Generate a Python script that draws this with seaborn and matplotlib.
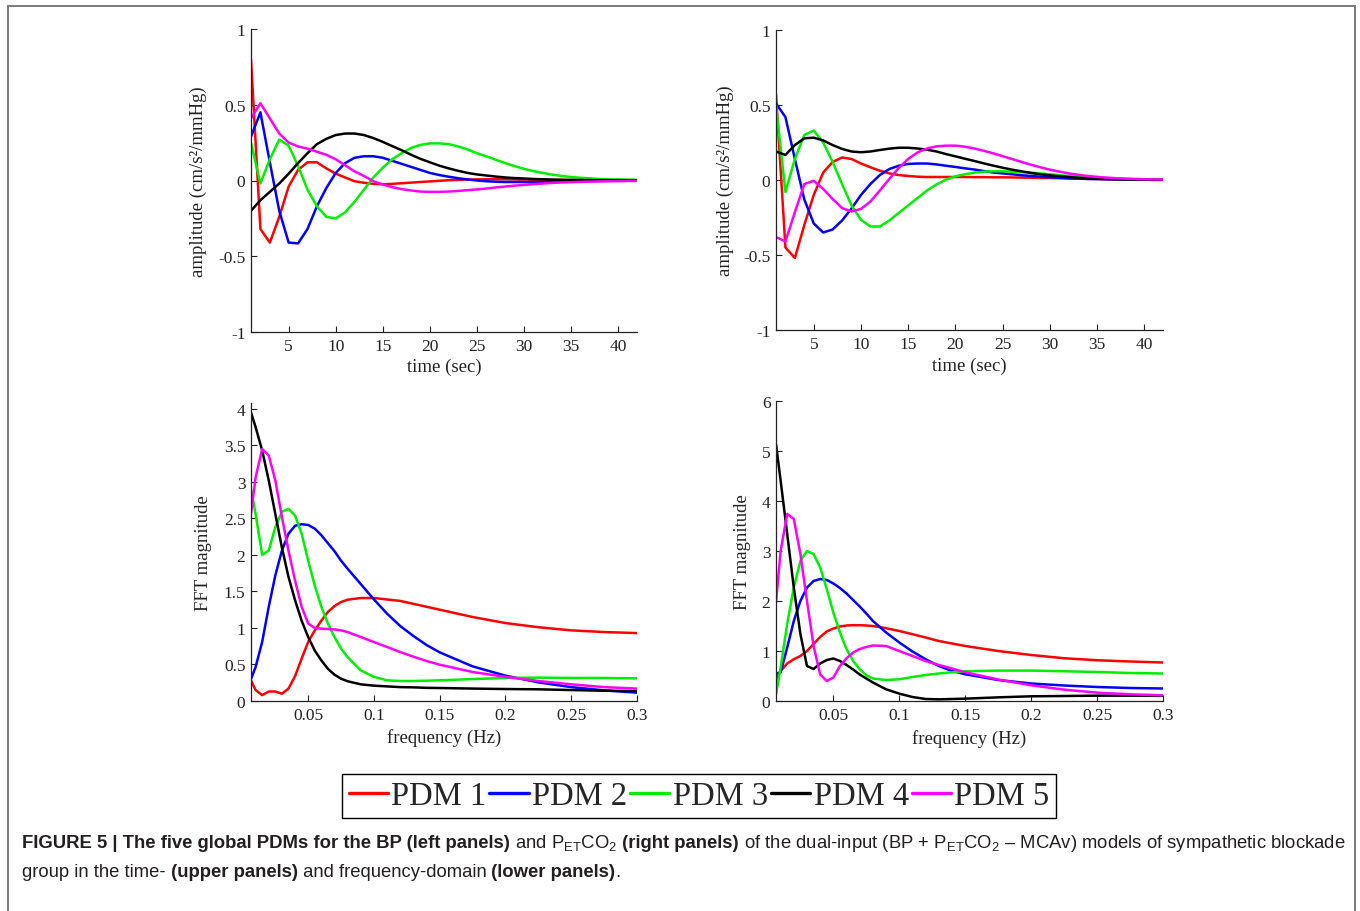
import numpy as np
import pandas as pd
import matplotlib
matplotlib.use('Agg')
import matplotlib.pyplot as plt
import seaborn as sns
from matplotlib.lines import Line2D
from matplotlib.patches import Rectangle
from matplotlib.ticker import FuncFormatter
from matplotlib import font_manager

# Nomes e cores dos PDMs
pdm_nomes = ['PDM 1', 'PDM 2', 'PDM 3', 'PDM 4', 'PDM 5']
pdm_cores = ['#ff0000', '#0000ff', '#00ee00', '#000000', '#ff00ff']

# Eixo do tempo (s) para os painéis superiores
tempo = list(range(1, 43))

# Painel superior esquerdo (BP)
bp_pdm1 = [0.80, -0.32, -0.41, -0.24, -0.04, 0.07, 0.12, 0.12, 0.08, 0.045, 0.02, -0.005, -0.015, -0.022,
           -0.025, -0.022, -0.018, -0.014, -0.01, -0.006, -0.002, 0.002, 0.004, 0.006, 0.007, 0.008, 0.008,
           0.008, 0.007, 0.006, 0.005, 0.004, 0.003, 0.003, 0.002, 0.002, 0.001, 0.001, 0.001, 0.0, 0.0, 0.0]
bp_pdm2 = [0.29, 0.45, 0.12, -0.2, -0.41, -0.415, -0.32, -0.17, -0.05, 0.05, 0.115, 0.15, 0.16, 0.16, 0.15,
           0.13, 0.11, 0.09, 0.07, 0.05, 0.036, 0.025, 0.015, 0.007, 0.0, -0.005, -0.008, -0.01, -0.01, -0.01,
           -0.01, -0.009, -0.008, -0.007, -0.006, -0.005, -0.004, -0.003, -0.002, -0.002, -0.001, -0.001]
bp_pdm3 = [0.25, -0.02, 0.14, 0.27, 0.23, 0.095, -0.06, -0.17, -0.24, -0.25, -0.21, -0.14, -0.06, 0.02, 0.085,
           0.14, 0.18, 0.215, 0.235, 0.245, 0.245, 0.24, 0.225, 0.205, 0.18, 0.16, 0.137, 0.115, 0.095, 0.077,
           0.062, 0.05, 0.039, 0.03, 0.023, 0.018, 0.014, 0.01, 0.008, 0.007, 0.006, 0.005]
bp_pdm4 = [-0.2, -0.13, -0.075, -0.02, 0.045, 0.115, 0.18, 0.24, 0.275, 0.3, 0.31, 0.31, 0.3, 0.28, 0.255,
           0.227, 0.2, 0.17, 0.143, 0.12, 0.098, 0.08, 0.064, 0.05, 0.04, 0.033, 0.026, 0.02, 0.016, 0.013,
           0.01, 0.008, 0.006, 0.005, 0.004, 0.003, 0.002, 0.002, 0.001, 0.001, 0.0, 0.0]
bp_pdm5 = [0.41, 0.51, 0.41, 0.31, 0.25, 0.225, 0.21, 0.19, 0.17, 0.14, 0.1, 0.06, 0.03, -0.005, -0.026,
           -0.044, -0.057, -0.066, -0.073, -0.075, -0.075, -0.073, -0.069, -0.064, -0.059, -0.053, -0.046,
           -0.04, -0.034, -0.029, -0.024, -0.02, -0.016, -0.013, -0.011, -0.009, -0.007, -0.006, -0.005,
           -0.004, -0.003, -0.003]

# Painel superior direito (PETCO2)
co2_pdm1 = [0.57, -0.45, -0.52, -0.3, -0.1, 0.05, 0.12, 0.15, 0.14, 0.11, 0.085, 0.062, 0.044, 0.033, 0.027,
            0.022, 0.02, 0.02, 0.02, 0.02, 0.02, 0.019, 0.019, 0.018, 0.018, 0.017, 0.016, 0.015, 0.014,
            0.013, 0.012, 0.01, 0.009, 0.008, 0.007, 0.006, 0.005, 0.004, 0.003, 0.002, 0.002, 0.002]
co2_pdm2 = [0.51, 0.42, 0.14, -0.13, -0.29, -0.35, -0.33, -0.27, -0.19, -0.1, -0.027, 0.033, 0.073, 0.095,
            0.107, 0.11, 0.11, 0.104, 0.095, 0.087, 0.078, 0.07, 0.06, 0.05, 0.044, 0.038, 0.032, 0.027,
            0.022, 0.018, 0.015, 0.012, 0.009, 0.007, 0.006, 0.005, 0.004, 0.003, 0.002, 0.002, 0.001, 0.001]
co2_pdm3 = [0.5, -0.08, 0.14, 0.3, 0.33, 0.25, 0.12, -0.027, -0.17, -0.265, -0.31, -0.31, -0.27, -0.22, -0.17,
            -0.12, -0.07, -0.03, 0.002, 0.024, 0.038, 0.049, 0.055, 0.058, 0.058, 0.055, 0.052, 0.049, 0.044,
            0.038, 0.032, 0.027, 0.022, 0.018, 0.015, 0.012, 0.01, 0.008, 0.006, 0.005, 0.004, 0.003]
co2_pdm4 = [0.19, 0.167, 0.233, 0.278, 0.282, 0.264, 0.233, 0.207, 0.19, 0.185, 0.19, 0.2, 0.209, 0.215, 0.215,
            0.21, 0.202, 0.19, 0.173, 0.158, 0.142, 0.127, 0.111, 0.096, 0.082, 0.069, 0.058, 0.047, 0.038,
            0.031, 0.025, 0.02, 0.015, 0.011, 0.009, 0.007, 0.005, 0.004, 0.003, 0.002, 0.001, 0.001]
co2_pdm5 = [-0.38, -0.41, -0.215, -0.027, -0.005, -0.06, -0.127, -0.187, -0.21, -0.193, -0.144, -0.07, 0.007,
            0.08, 0.14, 0.184, 0.21, 0.224, 0.229, 0.229, 0.222, 0.21, 0.195, 0.178, 0.159, 0.14, 0.121, 0.102,
            0.085, 0.069, 0.056, 0.044, 0.035, 0.027, 0.021, 0.016, 0.012, 0.009, 0.007, 0.005, 0.004, 0.003]

# Eixo da frequência (Hz) para os painéis inferiores
freq = [0.0065, 0.01, 0.015, 0.02, 0.025, 0.03, 0.035, 0.04, 0.045, 0.05, 0.055, 0.06, 0.065, 0.07, 0.075,
        0.08, 0.09, 0.1, 0.11, 0.12, 0.13, 0.14, 0.15, 0.175, 0.2, 0.225, 0.25, 0.275, 0.3]

# Painel inferior esquerdo (BP)
fft_bp_pdm1 = [0.28, 0.15, 0.08, 0.13, 0.13, 0.1, 0.17, 0.34, 0.58, 0.81, 0.967, 1.1, 1.22, 1.3, 1.355, 1.387,
               1.41, 1.41, 1.39, 1.37, 1.33, 1.29, 1.25, 1.15, 1.067, 1.01, 0.967, 0.944, 0.93]
fft_bp_pdm2 = [0.3, 0.465, 0.81, 1.29, 1.72, 2.06, 2.29, 2.4, 2.42, 2.41, 2.36, 2.27, 2.16, 2.05, 1.92, 1.81,
               1.6, 1.39, 1.195, 1.026, 0.89, 0.766, 0.666, 0.474, 0.347, 0.255, 0.19, 0.146, 0.114]
fft_bp_pdm3 = [2.9, 2.56, 2.0, 2.06, 2.38, 2.59, 2.63, 2.54, 2.29, 1.92, 1.58, 1.29, 1.06, 0.876, 0.716, 0.6,
               0.42, 0.33, 0.283, 0.274, 0.274, 0.278, 0.283, 0.3, 0.315, 0.32, 0.315, 0.315, 0.31]
fft_bp_pdm4 = [3.95, 3.75, 3.43, 3.02, 2.56, 2.1, 1.7, 1.38, 1.1, 0.875, 0.69, 0.556, 0.44, 0.36, 0.305, 0.27,
               0.228, 0.21, 0.2, 0.19, 0.187, 0.18, 0.178, 0.17, 0.164, 0.16, 0.15, 0.14, 0.137]
fft_bp_pdm5 = [2.56, 3.06, 3.45, 3.36, 3.02, 2.52, 2.06, 1.65, 1.29, 1.06, 1.0, 0.99, 0.985, 0.98, 0.967, 0.944,
               0.876, 0.807, 0.74, 0.67, 0.607, 0.547, 0.497, 0.397, 0.33, 0.274, 0.228, 0.19, 0.17]

# Painel inferior direito (PETCO2)
fft_co2_pdm1 = [0.43, 0.6, 0.75, 0.835, 0.9, 1.0, 1.14, 1.28, 1.39, 1.45, 1.49, 1.51, 1.516, 1.516, 1.51, 1.5,
                1.456, 1.4, 1.336, 1.27, 1.2, 1.15, 1.1, 1.0, 0.92, 0.855, 0.815, 0.79, 0.77]
fft_co2_pdm2 = [0.55, 0.57, 1.07, 1.6, 2.0, 2.27, 2.4, 2.44, 2.42, 2.35, 2.26, 2.15, 2.02, 1.89, 1.75, 1.6,
                1.37, 1.17, 0.99, 0.835, 0.7, 0.6, 0.534, 0.42, 0.35, 0.31, 0.28, 0.26, 0.25]
fft_co2_pdm3 = [0.13, 0.67, 1.54, 2.27, 2.8, 3.0, 2.94, 2.67, 2.24, 1.77, 1.37, 1.035, 0.8, 0.635, 0.514, 0.45,
                0.42, 0.434, 0.48, 0.52, 0.55, 0.575, 0.595, 0.608, 0.608, 0.595, 0.58, 0.56, 0.55]
fft_co2_pdm4 = [5.14, 4.41, 3.34, 2.27, 1.34, 0.7, 0.64, 0.75, 0.82, 0.85, 0.8, 0.72, 0.63, 0.53, 0.45, 0.37,
                0.234, 0.147, 0.08, 0.04, 0.033, 0.04, 0.047, 0.073, 0.094, 0.1, 0.107, 0.107, 0.107]
fft_co2_pdm5 = [1.97, 3.0, 3.74, 3.64, 2.94, 2.0, 1.1, 0.53, 0.4, 0.47, 0.7, 0.855, 0.97, 1.04, 1.08, 1.11,
                1.1, 1.0, 0.9, 0.8, 0.72, 0.65, 0.575, 0.43, 0.314, 0.227, 0.167, 0.134, 0.114]

# Estilo (parecido com o MATLAB)
sns.set_style('ticks')
plt.rcParams['font.family'] = ['Liberation Serif', 'DejaVu Serif']
plt.rcParams['axes.unicode_minus'] = False
plt.rcParams['mathtext.fontset'] = 'custom'
plt.rcParams['mathtext.rm'] = 'Liberation Sans'
plt.rcParams['mathtext.it'] = 'Liberation Sans:italic'
plt.rcParams['mathtext.bf'] = 'Liberation Sans:bold'

W, H = 1360, 912
fig = plt.figure(figsize=(W / 100, H / 100), dpi=100)


def eixo(px_esq, px_topo, px_dir, px_base):
    # cria um eixo a partir de posições em pixels
    return fig.add_axes([px_esq / W, 1 - px_base / H, (px_dir - px_esq) / W, (px_base - px_topo) / H])


def painel(ax, x, series, xlabel, ylabel, xlim, ylim, xticks, yticks, ylab_x, xlab_y):
    df = pd.DataFrame({'x': np.tile(x, len(series)),
                       'y': np.concatenate(series),
                       'PDM': np.repeat(pdm_nomes, len(x))})
    sns.lineplot(data=df, x='x', y='y', hue='PDM', palette=dict(zip(pdm_nomes, pdm_cores)),
                 linewidth=1.8, legend=False, errorbar=None, ax=ax)
    ax.set_xlim(xlim)
    ax.set_ylim(ylim)
    ax.set_xticks(xticks)
    ax.set_yticks(yticks)
    fmt = FuncFormatter(lambda v, p: f'{v:g}')
    ax.xaxis.set_major_formatter(fmt)
    ax.yaxis.set_major_formatter(fmt)
    ax.tick_params(direction='in', length=4, width=0.8, labelsize=12.5, pad=4, colors='#222222')
    sns.despine(ax=ax)
    for s in ['left', 'bottom']:
        ax.spines[s].set_linewidth(0.9)
        ax.spines[s].set_color('#222222')
    ax.set_xlabel(xlabel, fontsize=13.5, color='#222222')
    ax.set_ylabel(ylabel, fontsize=13.5, color='#222222')
    ax.yaxis.set_label_coords(ylab_x, 0.5)
    ax.xaxis.set_label_coords(0.5, xlab_y)


amp_label = 'amplitude (cm/s²/mmHg)'
t_ticks = [5, 10, 15, 20, 25, 30, 35, 40]
f_ticks = [0.05, 0.1, 0.15, 0.2, 0.25, 0.3]

ax1 = eixo(251, 30, 637, 333)
painel(ax1, tempo, [bp_pdm1, bp_pdm2, bp_pdm3, bp_pdm4, bp_pdm5], 'time (sec)', amp_label,
       (1, 42), (-1, 1), t_ticks, [-1, -0.5, 0, 0.5, 1], -0.113, -0.085)

ax2 = eixo(776, 31, 1163, 331)
painel(ax2, tempo, [co2_pdm1, co2_pdm2, co2_pdm3, co2_pdm4, co2_pdm5], 'time (sec)', amp_label,
       (1, 42), (-1, 1), t_ticks, [-1, -0.5, 0, 0.5, 1], -0.108, -0.09)

ax3 = eixo(251, 404, 637, 702)
painel(ax3, freq, [fft_bp_pdm1, fft_bp_pdm2, fft_bp_pdm3, fft_bp_pdm4, fft_bp_pdm5], 'frequency (Hz)',
       'FFT magnitude', (0.0065, 0.3), (0, 4.08), f_ticks, [0, 0.5, 1, 1.5, 2, 2.5, 3, 3.5, 4], -0.1, -0.09)

ax4 = eixo(776, 402, 1163, 702)
painel(ax4, freq, [fft_co2_pdm1, fft_co2_pdm2, fft_co2_pdm3, fft_co2_pdm4, fft_co2_pdm5], 'frequency (Hz)',
       'FFT magnitude', (0.0065, 0.3), (0, 6), f_ticks, [0, 1, 2, 3, 4, 5, 6], -0.064, -0.095)

# Legenda comum
handles = [Line2D([], [], color=c, lw=2.4) for c in pdm_cores]
leg = fig.legend(handles, pdm_nomes, loc='center', bbox_to_anchor=(699 / W, 1 - 797 / H), ncol=5,
                 frameon=True, fancybox=False, edgecolor='black', framealpha=1, fontsize=23.5,
                 handlelength=1.2, handletextpad=0.1, columnspacing=0.1, borderpad=0.2, borderaxespad=0)
leg.get_frame().set_linewidth(1.0)

# Moldura cinza em volta da figura
fig.add_artist(Rectangle((7.5 / W, -0.05), (1355 - 7.5) / W, (H - 6.5) / H + 0.05, transform=fig.transFigure,
                         fill=False, edgecolor='#7a7a7a', lw=1.4, clip_on=False))

# Legenda da figura (texto com partes em negrito)
nomes_fontes = {f.name for f in font_manager.fontManager.ttflist}
fam_cap = ['Liberation Sans Narrow', 'Liberation Sans'] if 'Liberation Sans Narrow' in nomes_fontes \
    else ['Liberation Sans', 'DejaVu Sans']
co2 = r'P$_{\mathregular{ET}}$CO$_2$'
linha1 = [('FIGURE 5 | The five global PDMs for the BP (left panels)', 'bold'),
          (' and ' + co2, 'normal'),
          (' (right panels)', 'bold'),
          (' of the dual-input (BP + ' + co2 + ' – MCAv) models of sympathetic blockade', 'normal')]
linha2 = [('group in the time-', 'normal'),
          (' (upper panels)', 'bold'),
          (' and frequency-domain', 'normal'),
          (' (lower panels)', 'bold'),
          ('.', 'normal')]

fig.canvas.draw()
renderer = fig.canvas.get_renderer()


def escreve(pecas, x0, y0, tam):
    x = x0
    objs = []
    for txt, peso in pecas:
        t = fig.text(x / W, 1 - y0 / H, txt, fontsize=tam, fontweight=peso, family=fam_cap,
                     color='#231f20', ha='left', va='baseline')
        objs.append(t)
        x += t.get_window_extent(renderer).width
    return x - x0, objs


# ajusta o tamanho da fonte para a largura da primeira linha
largura, objs = escreve(linha1, 22, 848, 12)
for o in objs:
    o.remove()
tam = 12 * (1340 - 22) / largura
escreve(linha1, 22, 848, tam)
escreve(linha2, 22, 877, tam)

fig.savefig('out.png', dpi=100)
